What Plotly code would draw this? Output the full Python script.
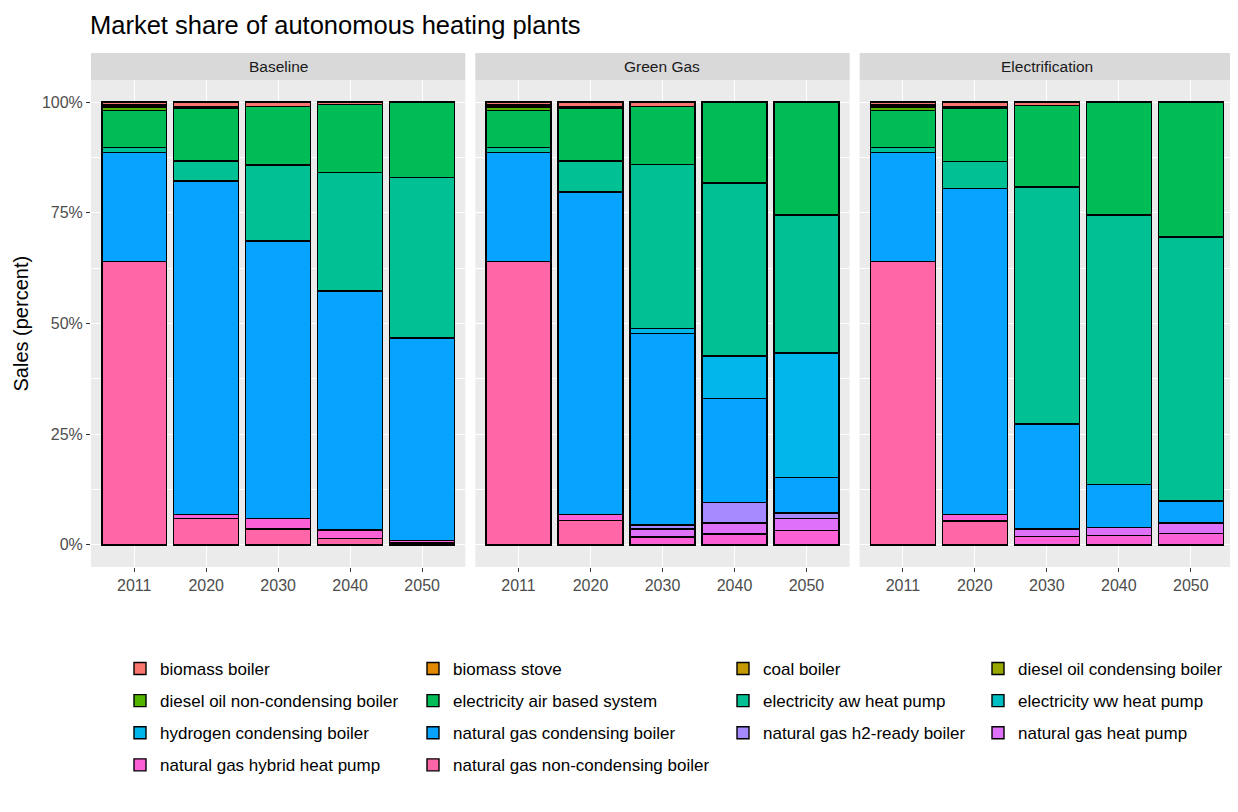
import plotly.graph_objects as go
from plotly.subplots import make_subplots

years = ['2011', '2020', '2030', '2040', '2050']
scenarios = ['Baseline', 'Green Gas', 'Electrification']

technologies = [
    'biomass boiler', 'biomass stove', 'coal boiler', 'diesel oil condensing boiler',
    'diesel oil non-condensing boiler', 'electricity air based system', 'electricity aw heat pump',
    'electricity ww heat pump', 'hydrogen condensing boiler', 'natural gas condensing boiler',
    'natural gas h2-ready boiler', 'natural gas heat pump', 'natural gas hybrid heat pump',
    'natural gas non-condensing boiler',
]

# ggplot hue palette, 14 levels
tech_colors = [
    '#F8766D', '#E38900', '#C49A00', '#99A800', '#53B400', '#00BC56', '#00C094',
    '#00BFC4', '#00B6EB', '#06A4FF', '#A58AFF', '#DF70F8', '#FB61D7', '#FF66A8',
]

# sales share (%) by technology, one value per year
baseline_share = {
    'biomass boiler': [0.5, 1.0, 1.0, 0.6, 0],
    'biomass stove': [0.2, 0, 0, 0, 0],
    'coal boiler': [0.1, 0, 0, 0, 0],
    'diesel oil condensing boiler': [0.3, 0, 0, 0, 0],
    'diesel oil non-condensing boiler': [0.8, 0.3, 0, 0, 0],
    'electricity air based system': [8.3, 12.0, 13.2, 15.3, 17.0],
    'electricity aw heat pump': [1.2, 4.5, 17.2, 26.8, 36.3],
    'electricity ww heat pump': [0, 0, 0, 0, 0],
    'hydrogen condensing boiler': [0, 0, 0, 0, 0],
    'natural gas condensing boiler': [24.6, 75.3, 62.6, 53.9, 45.7],
    'natural gas h2-ready boiler': [0, 0, 0, 0, 0],
    'natural gas heat pump': [0, 0, 0, 0, 0],
    'natural gas hybrid heat pump': [0, 1.0, 2.4, 1.9, 0.6],
    'natural gas non-condensing boiler': [64.0, 5.9, 3.6, 1.5, 0.4],
}

green_gas_share = {
    'biomass boiler': [0.5, 1.0, 1.0, 0, 0],
    'biomass stove': [0.2, 0, 0, 0, 0],
    'coal boiler': [0.1, 0, 0, 0, 0],
    'diesel oil condensing boiler': [0.3, 0, 0, 0, 0],
    'diesel oil non-condensing boiler': [0.8, 0.3, 0, 0, 0],
    'electricity air based system': [8.3, 12.0, 13.1, 18.3, 25.5],
    'electricity aw heat pump': [1.2, 7.0, 37.0, 39.0, 31.2],
    'electricity ww heat pump': [0, 0, 0, 0, 0],
    'hydrogen condensing boiler': [0, 0, 1.1, 9.6, 28.1],
    'natural gas condensing boiler': [24.6, 72.8, 43.3, 23.5, 8.0],
    'natural gas h2-ready boiler': [0, 0, 0.9, 4.7, 1.2],
    'natural gas heat pump': [0, 0, 1.8, 2.4, 2.8],
    'natural gas hybrid heat pump': [0, 1.4, 1.8, 2.5, 3.2],
    'natural gas non-condensing boiler': [64.0, 5.5, 0, 0, 0],
}

electrification_share = {
    'biomass boiler': [0.5, 1.0, 0.8, 0, 0],
    'biomass stove': [0.2, 0, 0, 0, 0],
    'coal boiler': [0.1, 0, 0, 0, 0],
    'diesel oil condensing boiler': [0.3, 0, 0, 0, 0],
    'diesel oil non-condensing boiler': [0.8, 0.3, 0, 0, 0],
    'electricity air based system': [8.3, 12.1, 18.4, 25.5, 30.5],
    'electricity aw heat pump': [1.2, 6.1, 53.5, 60.8, 59.6],
    'electricity ww heat pump': [0, 0, 0, 0, 0],
    'hydrogen condensing boiler': [0, 0, 0, 0, 0],
    'natural gas condensing boiler': [24.6, 73.6, 23.7, 9.8, 5.0],
    'natural gas h2-ready boiler': [0, 0, 0, 0, 0],
    'natural gas heat pump': [0, 0, 1.7, 1.8, 2.3],
    'natural gas hybrid heat pump': [0, 1.5, 1.9, 2.1, 2.6],
    'natural gas non-condensing boiler': [64.0, 5.4, 0, 0, 0],
}

shares = [baseline_share, green_gas_share, electrification_share]

FONT = 'Liberation Sans, Arial, sans-serif'
# the page puts the figure 8px in from the top-left corner
W, H = 1230, 804
ML, MR, MT, MB = 83, 4, 45, 245
plot_w = W - ML - MR
plot_h = H - MT - MB
gap_px = 10
panel_px = (plot_w - 2 * gap_px) / 3
strip_px = 27
y_top = 1 - strip_px / plot_h

fig = make_subplots(rows=1, cols=3, shared_yaxes=True)

legend_ids = ['legend', 'legend2', 'legend3', 'legend4']

# ggplot stacks the first level on top -> add traces from last to first
for col, (scen, share) in enumerate(zip(scenarios, shares), start=1):
    for i in reversed(range(len(technologies))):
        tech = technologies[i]
        vals = [v if v > 0 else None for v in share[tech]]
        fig.add_trace(go.Bar(
            x=years, y=vals, name=tech,
            marker=dict(color=tech_colors[i], line=dict(color='black', width=1.4)),
            legendgroup=tech, showlegend=(col == 1),
            legend=legend_ids[i % 4], legendrank=i,
            hovertemplate=f'{scen}<br>{tech}<br>%{{x}}: %{{y:.1f}}%<extra></extra>',
        ), row=1, col=col)

fig.update_layout(barmode='stack', bargap=0.1)

for k in range(3):
    x0 = (k * (panel_px + gap_px)) / plot_w
    x1 = (k * (panel_px + gap_px) + panel_px) / plot_w
    xa = 'xaxis' if k == 0 else f'xaxis{k + 1}'
    ya = 'yaxis' if k == 0 else f'yaxis{k + 1}'
    fig.layout[xa].update(
        domain=[x0, x1], type='category', range=[-0.6, 4.6],
        showgrid=True, gridcolor='white', gridwidth=1.1,
        ticks='outside', ticklen=4, tickcolor='#333333', tickwidth=1,
        tickfont=dict(family=FONT, size=16, color='#4D4D4D'),
        showline=False, zeroline=False, fixedrange=True,
    )
    fig.layout[ya].update(
        domain=[0, y_top], range=[-5, 105],
        tickvals=[0, 25, 50, 75, 100], ticktext=['0%', '25%', '50%', '75%', '100%'],
        showgrid=True, gridcolor='white', gridwidth=1.1,
        minor=dict(tickvals=[12.5, 37.5, 62.5, 87.5], showgrid=True,
                   gridcolor='white', gridwidth=0.5, ticklen=0),
        zeroline=False, showline=False, fixedrange=True,
        ticks='outside' if k == 0 else '', ticklen=4, tickcolor='#333333',
        showticklabels=(k == 0),
        tickfont=dict(family=FONT, size=16, color='#4D4D4D'),
    )
    # panel background
    fig.add_shape(type='rect', xref='paper', yref='paper', x0=x0, x1=x1, y0=0, y1=y_top,
                  fillcolor='#EBEBEB', line=dict(width=0), layer='below')
    # strip header
    fig.add_shape(type='rect', xref='paper', yref='paper', x0=x0, x1=x1, y0=y_top, y1=1,
                  fillcolor='#D9D9D9', line=dict(width=0))
    fig.add_annotation(x=(x0 + x1) / 2, y=(y_top + 1) / 2, xref='paper', yref='paper',
                       text=scenarios[k], showarrow=False, xanchor='center', yanchor='middle',
                       font=dict(family=FONT, size=15.5, color='#1A1A1A'))

fig.add_annotation(x=(12 - ML) / plot_w, y=y_top / 2, xref='paper', yref='paper',
                   text='Sales (percent)', textangle=-90, showarrow=False,
                   xanchor='center', yanchor='middle',
                   font=dict(family=FONT, size=20, color='black'))

legend_left_px = [112, 405, 715, 970]
legend_style = dict(
    orientation='v', yanchor='top', xanchor='left', y=(MT + plot_h - 643) / plot_h,
    bgcolor='rgba(0,0,0,0)', font=dict(family=FONT, size=17, color='black'),
    tracegroupgap=7, itemclick='toggle', title=dict(text=''),
)
for j, lid in enumerate(legend_ids):
    fig.layout[lid] = dict(legend_style, x=(legend_left_px[j] - ML) / plot_w)

fig.update_layout(
    width=W, height=H,
    margin=dict(l=ML, r=MR, t=MT, b=MB),
    paper_bgcolor='white', plot_bgcolor='rgba(0,0,0,0)',
    font=dict(family=FONT, size=13, color='black'),
    title=dict(text='Market share of autonomous heating plants',
               x=(ML - 1) / W, xanchor='left', xref='container',
               y=1 - 17 / H, yanchor='middle', yref='container',
               font=dict(family=FONT, size=25.5, color='black')),
)

fig.write_html('out.html')
